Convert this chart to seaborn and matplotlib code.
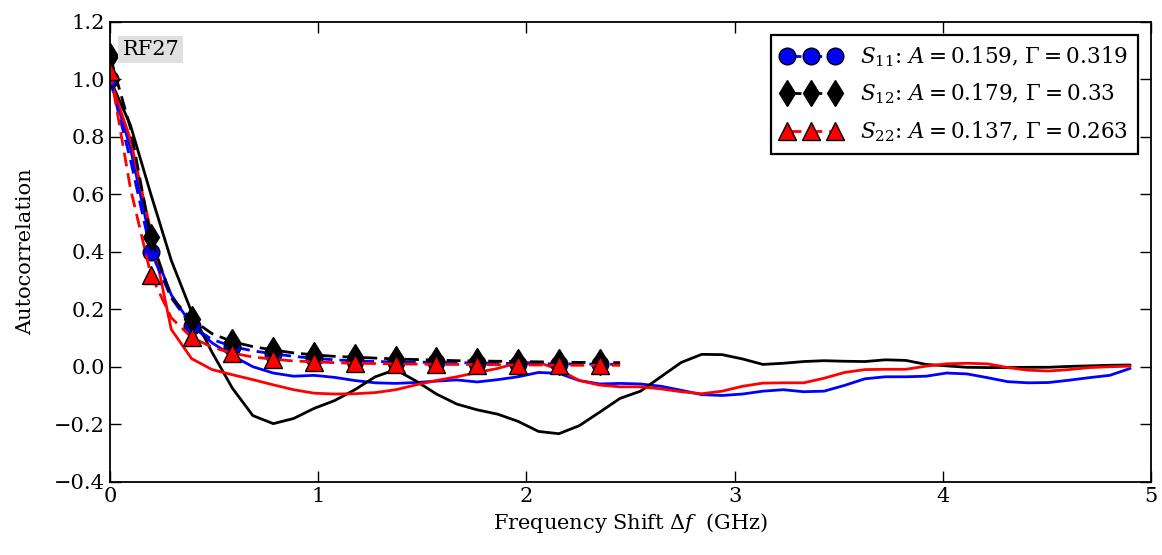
import numpy as np
import pandas as pd
import matplotlib
matplotlib.use("Agg")
import matplotlib.pyplot as plt
import matplotlib.ticker as mticker
import seaborn as sns

# frequency grid of the measured autocorrelation (GHz), step 0.098
freq = np.round(np.arange(51) * 0.098, 3)
# frequency grid of the fits (first 26 samples)
freq_fit = freq[:26]

s11_data = [1.00, 0.76, 0.43, 0.25, 0.145, 0.083, 0.038, 0.0, -0.022, -0.033,
            -0.030, -0.037, -0.048, -0.056, -0.058, -0.055, -0.050, -0.046, -0.053, -0.045,
            -0.035, -0.020, -0.023, -0.048, -0.060, -0.058, -0.060, -0.068, -0.082, -0.097,
            -0.100, -0.095, -0.085, -0.080, -0.087, -0.085, -0.065, -0.042, -0.035, -0.035,
            -0.033, -0.022, -0.025, -0.038, -0.052, -0.056, -0.055, -0.047, -0.038, -0.030,
            -0.006]
s12_data = [1.00, 0.84, 0.60, 0.37, 0.19, 0.05, -0.075, -0.17, -0.198, -0.18,
            -0.145, -0.118, -0.080, -0.035, -0.010, -0.050, -0.095, -0.130, -0.150, -0.165,
            -0.190, -0.225, -0.233, -0.205, -0.158, -0.110, -0.085, -0.035, 0.015, 0.043,
            0.042, 0.027, 0.008, 0.012, 0.018, 0.021, 0.019, 0.018, 0.024, 0.022,
            0.008, 0.003, -0.002, -0.003, -0.003, -0.002, -0.002, 0.001, 0.003, 0.005,
            0.006]
s22_data = [1.00, 0.79, 0.47, 0.13, 0.028, -0.010, -0.028, -0.045, -0.063, -0.080,
            -0.092, -0.095, -0.094, -0.090, -0.080, -0.063, -0.048, -0.035, -0.020, -0.006,
            0.014, 0.015, -0.010, -0.048, -0.064, -0.070, -0.070, -0.077, -0.087, -0.094,
            -0.085, -0.068, -0.057, -0.056, -0.056, -0.040, -0.020, -0.010, -0.009, -0.009,
            0.002, 0.010, 0.012, 0.010, -0.003, -0.012, -0.015, -0.010, -0.003, 0.0,
            0.002]

s11_fit = [1.00, 0.72, 0.40, 0.24, 0.14, 0.095, 0.070, 0.055, 0.045, 0.036,
           0.029, 0.024, 0.020, 0.018, 0.017, 0.016, 0.015, 0.014, 0.013, 0.012,
           0.011, 0.010, 0.010, 0.009, 0.009, 0.008]
s12_fit = [1.08, 0.83, 0.45, 0.24, 0.165, 0.115, 0.087, 0.070, 0.058, 0.048,
           0.041, 0.036, 0.033, 0.030, 0.027, 0.025, 0.023, 0.021, 0.020, 0.019,
           0.018, 0.017, 0.016, 0.015, 0.015, 0.014]
s22_fit = [1.03, 0.62, 0.32, 0.17, 0.102, 0.068, 0.047, 0.034, 0.026, 0.020,
           0.017, 0.014, 0.012, 0.011, 0.010, 0.009, 0.008, 0.008, 0.007, 0.007,
           0.006, 0.006, 0.005, 0.005, 0.005, 0.005]

labels = [r"$S_{11}$: $A = 0.159$, $\Gamma = 0.319$",
          r"$S_{12}$: $A = 0.179$, $\Gamma = 0.33$",
          r"$S_{22}$: $A = 0.137$, $\Gamma = 0.263$"]
colors = ["blue", "black", "red"]
markers = ["o", "d", "^"]
msizes = [12, 13, 13]

sns.set_style("ticks")
plt.rcParams.update({
    "font.family": ["DejaVu Serif"],
    "mathtext.fontset": "dejavuserif",
    "font.size": 15,
    "text.color": "black",
    "axes.labelcolor": "black",
    "xtick.direction": "in",
    "ytick.direction": "in",
    "xtick.top": True,
    "ytick.right": True,
    "xtick.major.size": 8,
    "ytick.major.size": 8,
    "xtick.color": "black",
    "ytick.color": "black",
    "axes.edgecolor": "black",
    "axes.linewidth": 1.3,
    "axes.unicode_minus": True,
})

fig = plt.figure(figsize=(11.62, 5.55), dpi=100)
ax = fig.add_axes([0.0947, 0.132, 0.8958, 0.829])

data_df = pd.DataFrame({"freq": freq, "S11": s11_data, "S12": s12_data, "S22": s22_data})
fit_df = pd.DataFrame({"freq": freq_fit, "S11": s11_fit, "S12": s12_fit, "S22": s22_fit})

for col, c in zip(["S11", "S12", "S22"], colors):
    sns.lineplot(data=data_df, x="freq", y=col, color=c, linewidth=2.0, ax=ax, legend=False)

handles = []
for col, c, m, ms, lab in zip(["S11", "S12", "S22"], colors, markers, msizes, labels):
    sns.lineplot(data=fit_df, x="freq", y=col, color=c, linewidth=2.0, dashes=False, ax=ax,
                 legend=False)
    ln = ax.lines[-1]
    ln.set_dashes((5, 2.5))
    ln.set_marker(m)
    ln.set_markersize(ms)
    ln.set_markeredgecolor("black")
    ln.set_markeredgewidth(1.0)
    ln.set_markerfacecolor(c)
    ln.set_markevery(2)
    handles.append(ln)

ax.set_xlim(0, 5)
ax.set_ylim(-0.4, 1.2)
ax.set_xticks([0, 1, 2, 3, 4, 5])
ax.set_yticks(np.round(np.arange(-0.4, 1.21, 0.2), 1))
ax.yaxis.set_major_formatter(mticker.FuncFormatter(lambda v, p: f"{v:.1f}".replace("-", "\u2212")))
ax.set_xlabel(r"Frequency Shift $\Delta f$  (GHz)", fontsize=15)
ax.set_ylabel("Autocorrelation", fontsize=15, labelpad=14)
ax.tick_params(labelsize=15, width=1.0)

leg = ax.legend(handles, labels, loc="upper right", numpoints=3, fontsize=15.5,
                fancybox=False, frameon=True, borderpad=0.45, handlelength=2.8,
                labelspacing=0.6, borderaxespad=0.6, handletextpad=0.9)
leg.get_frame().set_edgecolor("black")
leg.get_frame().set_linewidth(1.6)
leg.get_frame().set_alpha(1.0)

ax.text(0.012, 0.96, "RF27", transform=ax.transAxes, ha="left", va="top", fontsize=15,
        bbox=dict(facecolor="#e0e0e0", edgecolor="none", boxstyle="square,pad=0.2"))

fig.savefig("out.png", dpi=100)
